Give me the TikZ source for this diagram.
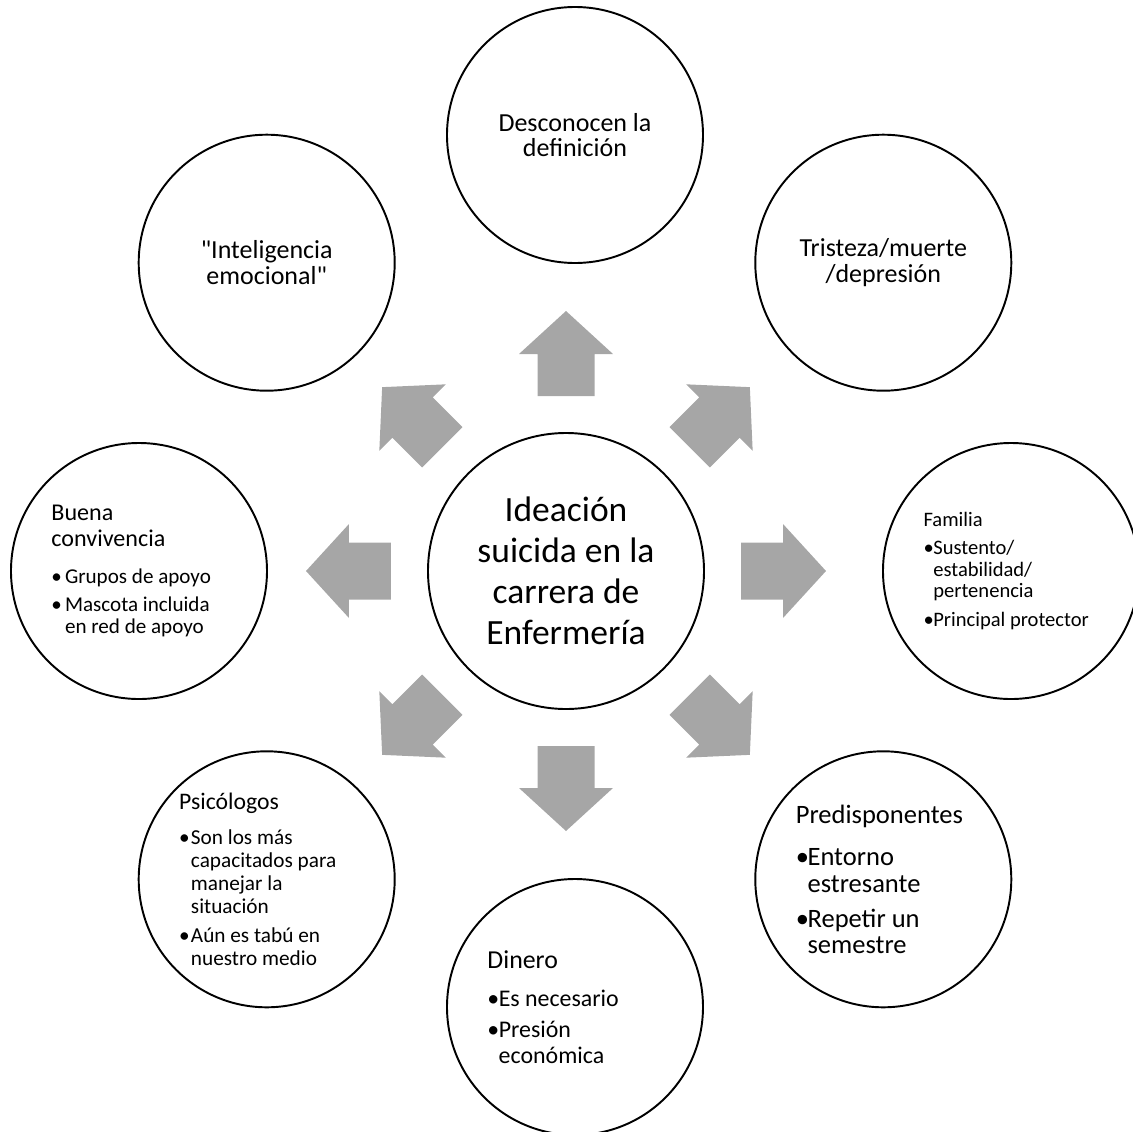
\documentclass[tikz,border=0pt]{standalone}
\usepackage{fontspec}
\setmainfont{Carlito}
\usetikzlibrary{positioning}
\setlength{\parindent}{0pt}

\definecolor{arrowgray}{HTML}{A6A6A6}
\newlength{\bulw}
\newcommand{\fs}[2]{\fontsize{#1}{#2}\selectfont\spaceskip=0pt\xspaceskip=0pt\relax}
\newcommand{\bul}{\makebox[\bulw][l]{\textbullet}}
\newcommand{\hang}{\hspace*{\bulw}}
\newcommand{\brk}[1][0pt]{\par\vspace{#1}}

\tikzset{
  hub/.style={circle, draw, line width=1.1pt, minimum size=5.52cm, inner sep=0pt, align=center, font=\fs{20.2}{23.3}},
  topic/.style={circle, draw, line width=1.1pt, minimum size=5.12cm, inner sep=0pt, align=center, font=\fs{14.8}{14.6}},
  listtopic/.style={topic, text width=3.5cm, align=left}
}

\begin{document}
\begin{tikzpicture}
    \useasboundingbox (-11.32,-11.2) rectangle (11.34,11.42);
    \clip (-11.32,-11.2) rectangle (11.34,11.42);

    % Centre
    \node[hub] (hub) at (0,0) {Ideación\\suicida en la\\carrera de\\Enfermería};
    \coordinate (ring) at (0.18,0);

    % Block arrows
    \foreach \a in {0,45,...,315} {
        \fill[arrowgray, rotate=\a] (3.5,-0.57) -- (4.34,-0.57) -- (4.34,-0.94) -- (5.2,0)
            -- (4.34,0.94) -- (4.34,0.57) -- (3.5,0.57) -- cycle;
    }

    % Outer circles
    \node[topic] (defin) at ([shift={(90:8.72)}]ring) {Desconocen la\\definición};
    \node[topic] (triste) at ([shift={(45:8.72)}]ring) {Tristeza/muerte\\/depresión};
    \node[topic] (intel) at ([shift={(135:8.72)}]ring) {\textquotedbl Inteligencia\\emocional\textquotedbl};

    \node[listtopic] (familia) at ([shift={(0:8.72)}]ring) {\setlength{\bulw}{5.6pt}\fs{11.7}{12.3}Familia\brk[3.8pt]
        \bul Sustento/\brk \hang estabilidad/\brk \hang pertenencia\brk[4.2pt]
        \bul Principal protector\par};

    \node[listtopic] (predis) at ([shift={(-45:8.72)}]ring) {\setlength{\bulw}{6.7pt}\fs{15.1}{15.2}Predisponentes\brk[8.9pt]
        \bul Entorno\brk \hang estresante\brk[4.7pt]
        \bul Repetir un\brk \hang semestre\par};

    \node[listtopic] (dinero) at ([shift={(-90:8.72)}]ring) {\setlength{\bulw}{6.4pt}\fs{14.7}{14.6}Dinero\brk[7.2pt]
        \fs{13.6}{14.6}\bul Es necesario\brk[3pt]
        \bul Presión\brk \hang económica\par};

    \node[listtopic] (psico) at ([shift={(-135:8.72)}]ring) {\setlength{\bulw}{6.7pt}\fs{13.5}{14.5}Psicólogos\brk[7pt]
        \fs{12.1}{13.1}\bul Son los más\brk \hang capacitados para\brk \hang manejar la\brk \hang situación\brk[3.4pt]
        \bul Aún es tabú en\brk \hang nuestro medio\par};

    \node[listtopic] (buena) at ([shift={(180:8.72)}]ring) {\setlength{\bulw}{7.7pt}\fs{13.7}{14.6}Buena\brk convivencia\brk[9pt]
        \fs{12}{12.5}\bul Grupos de apoyo\brk[3.2pt]
        \bul Mascota incluida\brk \hang en red de apoyo\par};
\end{tikzpicture}
\end{document}
